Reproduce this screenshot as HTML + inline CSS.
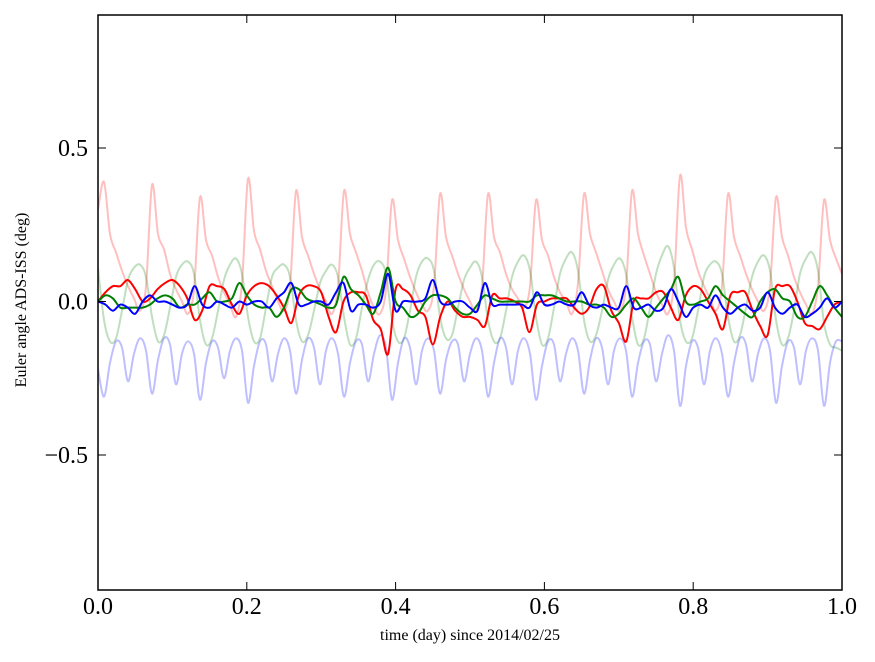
<!DOCTYPE html>
<html><head><meta charset="utf-8"><style>
html,body{margin:0;padding:0;background:#fff;}
svg{display:block;font-family:"Liberation Serif",serif;}
</style></head><body>
<svg id="chart" width="875" height="662" viewBox="0 0 875 662"></svg>
<script>
// light series sampled at t = i/124
const redLight=[0.30,
0.39,0.22,0.16,0.10,0.05,0.01,-0.03,0.05,
0.38,0.22,0.17,0.09,0.04,0.0,-0.04,0.04,
0.34,0.20,0.15,0.08,0.03,-0.01,-0.05,0.06,
0.40,0.23,0.17,0.10,0.05,0.0,-0.03,0.05,
0.36,0.21,0.15,0.09,0.04,0.0,-0.04,0.05,
0.36,0.22,0.16,0.10,0.03,-0.02,-0.04,0.04,
0.33,0.20,0.14,0.08,0.03,-0.01,-0.03,0.05,
0.35,0.21,0.15,0.09,0.04,0.0,-0.03,0.05,
0.35,0.21,0.16,0.09,0.04,0.01,-0.02,0.05,
0.33,0.20,0.15,0.08,0.03,0.0,-0.04,0.06,
0.35,0.22,0.16,0.10,0.04,0.0,-0.03,0.05,
0.36,0.22,0.15,0.09,0.03,-0.01,-0.04,0.06,
0.41,0.24,0.17,0.10,0.05,0.01,-0.03,0.05,
0.35,0.21,0.15,0.09,0.04,0.0,-0.03,0.05,
0.34,0.21,0.15,0.08,0.03,-0.01,-0.04,0.05,
0.33,0.20,0.14,0.09];
const greenLight=[0.11,
-0.06,-0.13,-0.12,-0.03,0.07,0.11,0.12,0.08,
-0.05,-0.13,-0.11,-0.02,0.08,0.12,0.13,0.09,
-0.06,-0.14,-0.12,-0.03,0.07,0.12,0.14,0.09,
-0.05,-0.13,-0.12,-0.02,0.08,0.11,0.12,0.08,
-0.06,-0.13,-0.11,-0.03,0.06,0.10,0.12,0.08,
-0.05,-0.14,-0.12,-0.02,0.07,0.12,0.13,0.09,
-0.06,-0.13,-0.12,-0.03,0.08,0.13,0.14,0.10,
-0.05,-0.12,-0.11,-0.02,0.07,0.11,0.13,0.08,
-0.06,-0.13,-0.12,-0.03,0.08,0.13,0.15,0.10,
-0.05,-0.14,-0.12,-0.02,0.09,0.14,0.16,0.10,
-0.06,-0.13,-0.11,-0.03,0.07,0.12,0.14,0.09,
-0.05,-0.14,-0.12,-0.02,0.09,0.15,0.18,0.11,
-0.06,-0.13,-0.12,-0.03,0.08,0.12,0.13,0.09,
-0.05,-0.13,-0.11,-0.02,0.08,0.13,0.15,0.10,
-0.06,-0.14,-0.12,-0.03,0.09,0.14,0.16,0.10,
-0.07,-0.14,-0.15,-0.16];
const blueLight=[-0.22,
-0.31,-0.20,-0.13,-0.15,-0.26,-0.17,-0.12,-0.16,
-0.30,-0.19,-0.12,-0.14,-0.27,-0.17,-0.13,-0.17,
-0.32,-0.20,-0.13,-0.15,-0.25,-0.16,-0.12,-0.16,
-0.33,-0.21,-0.13,-0.14,-0.26,-0.17,-0.12,-0.16,
-0.30,-0.19,-0.12,-0.15,-0.27,-0.16,-0.12,-0.17,
-0.31,-0.20,-0.13,-0.14,-0.26,-0.17,-0.11,-0.15,
-0.32,-0.20,-0.12,-0.15,-0.27,-0.16,-0.12,-0.16,
-0.30,-0.19,-0.13,-0.14,-0.26,-0.17,-0.12,-0.16,
-0.31,-0.20,-0.12,-0.15,-0.27,-0.16,-0.12,-0.17,
-0.32,-0.21,-0.13,-0.14,-0.26,-0.17,-0.12,-0.16,
-0.30,-0.19,-0.12,-0.15,-0.27,-0.16,-0.12,-0.16,
-0.31,-0.20,-0.13,-0.14,-0.26,-0.17,-0.11,-0.16,
-0.34,-0.21,-0.13,-0.15,-0.27,-0.16,-0.12,-0.17,
-0.31,-0.20,-0.12,-0.14,-0.26,-0.17,-0.12,-0.16,
-0.33,-0.21,-0.13,-0.15,-0.27,-0.16,-0.12,-0.16,
-0.34,-0.20,-0.13,-0.13];
// dark series sampled at t = k/100
const redDark=[0.0,0.03,0.05,0.05,0.07,0.04,0.0,0.01,0.04,0.06,0.07,0.05,0.01,-0.06,-0.03,0.05,0.05,0.04,-0.01,-0.04,0.02,0.05,0.06,0.05,0.02,-0.02,-0.07,0.02,0.05,0.05,0.03,-0.05,-0.1,0.0,0.03,0.03,0.02,-0.06,-0.09,-0.17,0.04,0.04,0.02,-0.03,-0.05,-0.14,-0.05,0.0,-0.03,-0.05,-0.05,-0.06,-0.08,0.02,0.01,0.01,0.0,-0.02,-0.1,-0.01,0.0,0.01,0.01,0.01,-0.02,-0.04,-0.02,0.04,0.05,-0.03,-0.07,-0.13,0.0,0.01,0.01,0.03,0.03,-0.02,-0.06,0.02,0.05,0.04,0.0,-0.04,-0.09,0.02,0.03,0.03,-0.03,-0.08,-0.11,0.04,0.05,0.05,0.0,-0.07,-0.08,-0.09,-0.05,-0.01,0.0];
const greenDark=[0.0,0.02,0.01,-0.02,-0.02,-0.02,-0.02,-0.01,0.01,0.02,0.01,-0.02,-0.01,-0.01,0.01,0.03,0.0,0.0,0.01,0.06,0.02,-0.01,-0.02,-0.02,-0.05,-0.02,0.04,0.04,0.01,0.0,-0.01,-0.02,-0.01,0.08,0.04,0.02,-0.01,-0.04,0.03,0.11,0.0,-0.02,-0.05,-0.04,0.0,0.02,0.02,0.01,-0.02,-0.04,-0.04,-0.01,0.02,0.01,0.0,0.0,0.0,0.0,0.0,0.02,0.02,0.02,0.01,0.0,0.0,0.0,-0.01,-0.01,-0.02,-0.05,-0.04,-0.01,0.01,-0.02,-0.05,-0.02,0.01,0.04,0.08,0.0,-0.01,0.0,0.01,0.05,0.02,0.0,-0.02,-0.04,-0.05,0.0,0.03,0.04,0.01,0.0,-0.05,-0.05,0.0,0.05,0.02,-0.02,-0.05];
const blueDark=[0.0,-0.01,-0.03,-0.01,-0.02,-0.04,0.0,0.02,0.0,0.0,-0.01,-0.02,-0.01,0.05,-0.01,-0.02,0.0,-0.01,-0.02,0.0,-0.01,0.0,0.0,-0.02,0.01,0.03,0.06,-0.01,-0.01,0.0,0.0,-0.01,0.03,0.06,-0.03,-0.01,-0.01,-0.02,0.0,0.09,-0.03,0.0,0.0,0.0,0.01,0.07,0.0,-0.01,0.0,0.0,-0.02,-0.03,0.06,-0.01,-0.01,-0.01,-0.01,-0.01,-0.02,0.03,-0.01,-0.01,0.0,-0.01,-0.01,0.03,-0.01,-0.02,-0.01,-0.02,-0.02,0.05,-0.02,-0.02,-0.01,-0.03,-0.02,0.04,0.0,-0.05,-0.02,-0.01,-0.02,0.02,-0.02,-0.04,-0.02,-0.01,-0.03,-0.02,0.03,-0.02,-0.04,-0.02,-0.01,-0.05,-0.04,-0.02,0.01,-0.02,0.0];
const xTicks=[0.0,0.2,0.4,0.6,0.8,1.0];
const xTickLabels=["0.0","0.2","0.4","0.6","0.8","1.0"];
const yTicks=[0.5,0.0,-0.5];
const yTickLabels=["0.5","0.0","\u22120.5"];

const L=98,R=842,T=15,B=590;
const Y0=301.5,YS=307;
function xs(t){return L+(R-L)*t;}
function ys(v){return Y0-v*YS;}
const NS="http://www.w3.org/2000/svg";
const svg=document.getElementById('chart');
function mk(tag,attrs){const e=document.createElementNS(NS,tag);for(const k in attrs)e.setAttribute(k,attrs[k]);svg.appendChild(e);return e;}

const clip=document.createElementNS(NS,'clipPath');clip.setAttribute('id','pc');
const cr=document.createElementNS(NS,'rect');cr.setAttribute('x',L);cr.setAttribute('y',T);cr.setAttribute('width',R-L);cr.setAttribute('height',B-T);
clip.appendChild(cr);svg.appendChild(clip);

function drawSeries(vals,n,color,name){
  const P=vals.map((v,i)=>[xs(i/n),ys(v)]);
  let d='M'+P[0][0].toFixed(2)+' '+P[0][1].toFixed(2);
  for(let i=0;i<P.length-1;i++){
    const p0=P[Math.max(0,i-1)],p1=P[i],p2=P[i+1],p3=P[Math.min(P.length-1,i+2)];
    const c1x=p1[0]+(p2[0]-p0[0])/6,c1y=p1[1]+(p2[1]-p0[1])/6;
    const c2x=p2[0]-(p3[0]-p1[0])/6,c2y=p2[1]-(p3[1]-p1[1])/6;
    d+=`C${c1x.toFixed(2)} ${c1y.toFixed(2)} ${c2x.toFixed(2)} ${c2y.toFixed(2)} ${p2[0].toFixed(2)} ${p2[1].toFixed(2)}`;
  }
  const p=mk('path',{d:d,fill:'none',stroke:color,'stroke-width':2,'stroke-linejoin':'round','clip-path':'url(#pc)'});
  
  
}
drawSeries(redLight,124,'rgba(255,0,0,0.25)','series-red-light');
drawSeries(greenLight,124,'rgba(0,128,0,0.25)','series-green-light');
drawSeries(blueLight,124,'rgba(0,0,255,0.25)','series-blue-light');
drawSeries(redDark,100,'#ff0000','series-red');
drawSeries(greenDark,100,'#008000','series-green');
drawSeries(blueDark,100,'#0000ff','series-blue');

const frame=mk('rect',{x:L,y:T,width:R-L,height:B-T,fill:'none',stroke:'#000','stroke-width':1.5});



xTicks.forEach((t,i)=>{
  const x=xs(t);
  const tk=mk('path',{d:`M${x} ${B}V${B-8}M${x} ${T}V${T+8}`,stroke:'#000','stroke-width':1});
  
  
  const lb=mk('text',{x:x,y:614,'text-anchor':'middle','font-size':24,fill:'#000'});
  lb.textContent=xTickLabels[i];
  
  
});
yTicks.forEach((v,i)=>{
  const y=ys(v);
  const tk=mk('path',{d:`M${L} ${y}H${L+8}M${R} ${y}H${R-8}`,stroke:'#000','stroke-width':1});
  
  
  const lb=mk('text',{x:L-10,y:y+8,'text-anchor':'end','font-size':24,fill:'#000'});
  lb.textContent=yTickLabels[i];
  
  
});
</script>
<div style="position:absolute;left:0;top:0;width:875px;height:662px;pointer-events:none;font-family:'Liberation Serif',serif;">
  <div style="position:absolute;left:270px;width:400px;top:627px;text-align:center;font-size:16px;">time (day) since 2014/02/25</div>
  <div style="position:absolute;left:-178px;top:291px;width:400px;text-align:center;font-size:16px;transform:rotate(-90deg);">Euler angle ADS-ISS (deg)</div>
</div>
</body></html>
